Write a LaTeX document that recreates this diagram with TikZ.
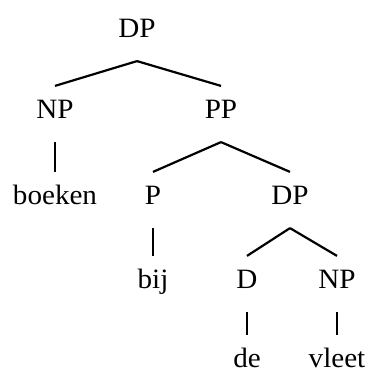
\documentclass[tikz,border=0pt]{standalone}
\usepackage{fontspec}
\setmainfont[FakeStretch=1.04]{Liberation Serif}
\usepackage{tikz}

\begin{document}
\begin{tikzpicture}[x=1pt,y=-1pt,line width=2.2pt,
  every node/.style={font=\fontsize{28}{33}\selectfont,anchor=base,inner xsep=0pt,inner ysep=12pt,text height=19pt,text depth=11pt},
  word/.style={inner ysep=0pt,text height=31pt,text depth=0pt}]
  \useasboundingbox (0,0) rectangle (368,372);
  \node (dp) at (137,37) {DP};
  \node (np) at (55,118) {NP};
  \node (pp) at (221,118) {PP};
  \node[word] (boeken) at (55,204) {boeken};
  \node (p) at (153,204) {P};
  \node (dp2) at (290,204) {DP};
  \node[word] (bij) at (153,288) {bij};
  \node (d) at (247,288) {D};
  \node (np2) at (337,288) {NP};
  \node[word] (de) at (247,367) {de};
  \node[word] (vleet) at (337,367) {vleet};

  \draw (dp.south) -- (np.north);
  \draw (dp.south) -- (pp.north);
  \draw (np.south) -- (boeken.north);
  \draw (pp.south) -- (p.north);
  \draw (pp.south) -- (dp2.north);
  \draw (p.south) -- (bij.north);
  \draw (dp2.south) -- (d.north);
  \draw (dp2.south) -- (np2.north);
  \draw (d.south) -- (de.north);
  \draw (np2.south) -- (vleet.north);
\end{tikzpicture}
\end{document}
